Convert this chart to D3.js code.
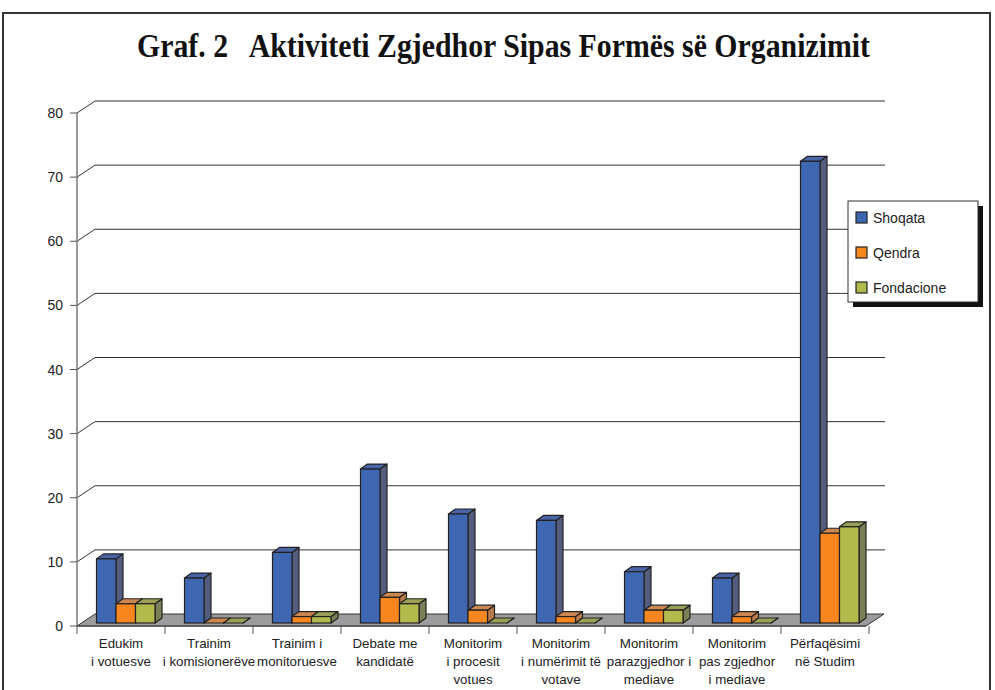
<!DOCTYPE html>
<html>
<head>
<meta charset="utf-8">
<script src="https://cdn.jsdelivr.net/npm/d3@7"></script>
<style>
  body { margin: 0; background: #fff; }
  svg { display: block; }
  text { font-family: Arial, "Liberation Sans", sans-serif; fill: #222; }
</style>
</head>
<body>
<svg width="995" height="690"></svg>
<script>
const categories = [
  ["Edukim", "i votuesve"],
  ["Trainim", "i komisionerëve"],
  ["Trainim i", "monitoruesve"],
  ["Debate me", "kandidatë"],
  ["Monitorim", "i procesit", "votues"],
  ["Monitorim", "i numërimit të", "votave"],
  ["Monitorim", "parazgjedhor i", "mediave"],
  ["Monitorim", "pas zgjedhor", "i mediave"],
  ["Përfaqësimi", "në Studim"]
];
const seriesNames = ["Shoqata", "Qendra", "Fondacione"];
const shoqata    = [10, 7, 11, 24, 17, 16, 8, 7, 72];
const qendra     = [3, 0, 1, 4, 2, 1, 2, 1, 14];
const fondacione = [3, 0, 1, 3, 0, 0, 2, 0, 15];
const yTicks = [0, 10, 20, 30, 40, 50, 60, 70, 80];

const colors = {
  Shoqata:    {front: "#3f67b1", side: "#535d7e", top: "#4a64a8"},
  Qendra:     {front: "#f7861f", side: "#b87a4a", top: "#cf8750"},
  Fondacione: {front: "#b1bb4c", side: "#7a8058", top: "#9aa058"}
};

const svg = d3.select("svg");

// frame
svg.append("rect")
  .attr("x", 3).attr("y", 13).attr("width", 987).attr("height", 700)
  .attr("fill", "none").attr("stroke", "#333").attr("stroke-width", 2);

// title
svg.append("text")
  .attr("x", 137).attr("y", 57)
  .attr("textLength", 733).attr("lengthAdjust", "spacingAndGlyphs")
  .style("font-family", "'Liberation Serif', 'DejaVu Serif', serif")
  .style("font-weight", "bold").style("font-size", "33px")
  .style("fill", "#111")
  .text("Graf. 2\u00a0\u00a0 Aktiviteti Zgjedhor Sipas Formës së Organizimit");

// geometry
const depth = {dx: 18, dy: -12};
const x = d3.scaleBand()
  .domain(d3.range(categories.length))
  .range([77, 869]);
const y = d3.scaleLinear().domain([0, 80]).range([626, 113]);
const xs = d3.scaleBand().domain(seriesNames).range([15, 73.5]);
const barDepth = {dx: 7, dy: -5};
const barOff = {dx: 4.5, dy: -3};

const g = svg.append("g");

// back wall gridlines + diagonals
yTicks.forEach(t => {
  if (t === 0) return;
  g.append("path")
    .attr("d", `M${x.range()[0]},${y(t)} L${x.range()[0] + depth.dx},${y(t) + depth.dy} L${x.range()[1] + depth.dx - 2},${y(t) + depth.dy}`)
    .attr("fill", "none").attr("stroke", "#333").attr("stroke-width", 1);
});

// floor
const x0 = x.range()[0], x1 = x.range()[1] - 3;
g.append("path")
  .attr("d", `M${x0},${y(0)} L${x0 + depth.dx},${y(0) + depth.dy} L${x1 + depth.dx},${y(0) + depth.dy} L${x1},${y(0)} Z`)
  .attr("fill", "#9c9c9c").attr("stroke", "#333").attr("stroke-width", 1);

// y axis
g.append("line")
  .attr("x1", x0).attr("x2", x0).attr("y1", y(80)).attr("y2", y(0))
  .attr("stroke", "#777").attr("stroke-width", 1.5);
g.selectAll(".ytick").data(yTicks).enter().append("line")
  .attr("x1", x0 - 7).attr("x2", x0).attr("y1", d => y(d)).attr("y2", d => y(d))
  .attr("stroke", "#555");
g.selectAll(".ylab").data(yTicks).enter().append("text")
  .attr("x", 63).attr("y", d => y(d) + 5)
  .attr("text-anchor", "end").style("font-size", "14px")
  .text(d => d);

// x axis
g.append("line")
  .attr("x1", x0).attr("x2", x1).attr("y1", y(0)).attr("y2", y(0))
  .attr("stroke", "#555").attr("stroke-width", 1.5);
g.selectAll(".xtick").data(d3.range(categories.length + 1)).enter().append("line")
  .attr("x1", i => x0 + i * x.step()).attr("x2", i => x0 + i * x.step())
  .attr("y1", y(0)).attr("y2", y(0) + 8)
  .attr("stroke", "#555");

// bars
const rows = [];
categories.forEach((c, i) => {
  [shoqata, qendra, fondacione].forEach((arr, j) => {
    rows.push({cat: i, s: seriesNames[j], v: arr[i]});
  });
});

const bars = g.selectAll(".bar").data(rows).enter().append("g").attr("class", "bar");
bars.each(function(d) {
  const bx = x(d.cat) + xs(d.s) + barOff.dx;
  const bw = xs.bandwidth();
  const yb = y(0) + barOff.dy;
  const yt = y(d.v) + barOff.dy;
  const c = colors[d.s];
  const sel = d3.select(this);
  // side
  sel.append("path")
    .attr("d", `M${bx + bw},${yb} L${bx + bw + barDepth.dx},${yb + barDepth.dy} L${bx + bw + barDepth.dx},${yt + barDepth.dy} L${bx + bw},${yt} Z`)
    .attr("fill", c.side).attr("stroke", "#222").attr("stroke-width", 1.2).attr("stroke-linejoin", "round");
  // top
  sel.append("path")
    .attr("d", `M${bx},${yt} L${bx + barDepth.dx},${yt + barDepth.dy} L${bx + bw + barDepth.dx},${yt + barDepth.dy} L${bx + bw},${yt} Z`)
    .attr("fill", c.top).attr("stroke", "#222").attr("stroke-width", 1.2).attr("stroke-linejoin", "round");
  // front
  if (d.v > 0) {
    sel.append("rect")
      .attr("x", bx).attr("y", yt).attr("width", bw).attr("height", yb - yt)
      .attr("fill", c.front).attr("stroke", "#222").attr("stroke-width", 1.2);
  }
});

// category labels
categories.forEach((lines, i) => {
  const t = g.append("text")
    .attr("x", x(i) + x.bandwidth() / 2)
    .attr("y", 648)
    .attr("text-anchor", "middle")
    .style("font-size", "13.3px");
  lines.forEach((ln, k) => {
    t.append("tspan").attr("x", x(i) + x.bandwidth() / 2).attr("dy", k === 0 ? 0 : 18).text(ln);
  });
});

// legend
const lg = svg.append("g").attr("transform", "translate(848,201)");
lg.append("rect").attr("x", 5).attr("y", 5).attr("width", 130).attr("height", 101).attr("fill", "#111");
lg.append("rect").attr("x", 0).attr("y", 0).attr("width", 130).attr("height", 101)
  .attr("fill", "#fff").attr("stroke", "#333").attr("stroke-width", 1);
seriesNames.forEach((s, i) => {
  lg.append("rect").attr("x", 8).attr("y", 11 + i * 35).attr("width", 11).attr("height", 11)
    .attr("fill", colors[s].front).attr("stroke", "#222").attr("stroke-width", 1.2);
  lg.append("text").attr("x", 25).attr("y", 22 + i * 35).style("font-size", "14px").text(s);
});
</script>
</body>
</html>
